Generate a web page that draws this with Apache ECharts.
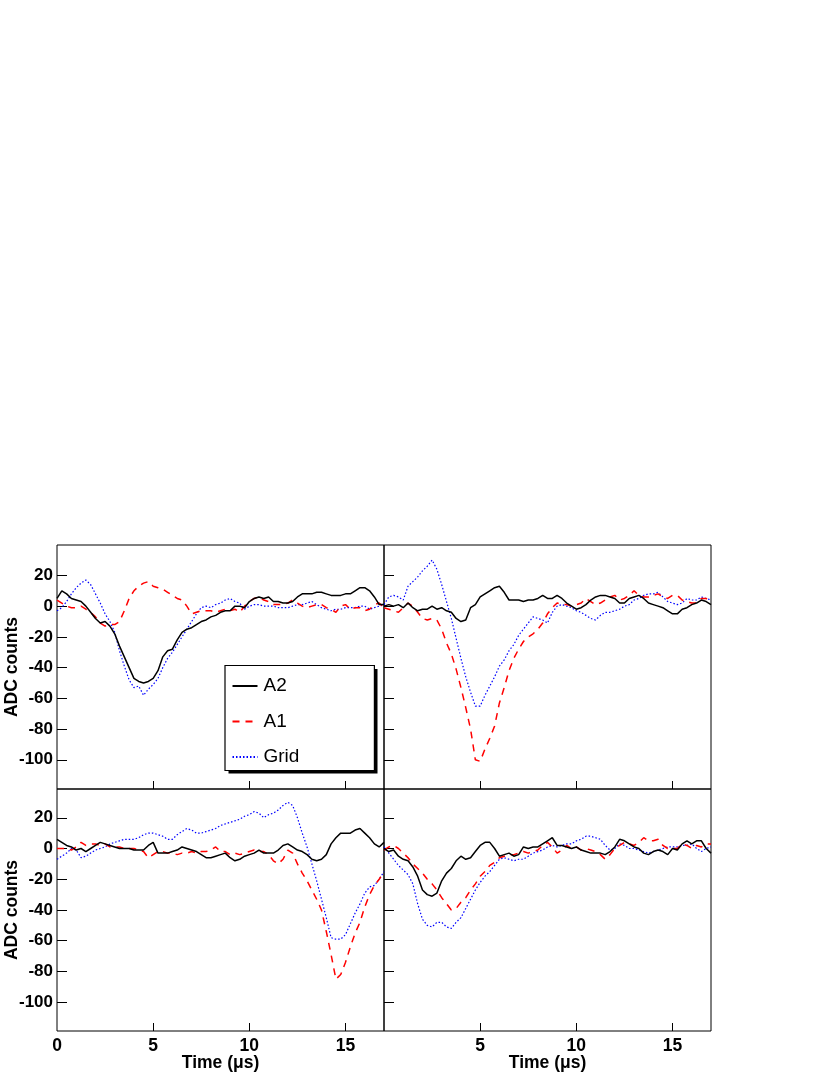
<!DOCTYPE html>
<html>
<head>
<meta charset="utf-8">
<script src="https://cdn.jsdelivr.net/npm/echarts@6/dist/echarts.min.js"></script>
<style>
html,body{margin:0;padding:0;background:#fff;}
#chart{width:830px;height:1075px;}
</style>
</head>
<body>
<div id="chart"></div>
<script>
// Sampling times (µs), 0.25 µs apart, 0..17
const times = Array.from({length: 69}, (_, i) => i * 0.25);

// Top-left panel
const tlA2 = [5,10,8,5,4,3,0,-4,-8,-11,-10,-13,-18,-26,-33,-40,-47,-49,-50,-49,-47,-42,-33,-29,-28,-22,-17,-15,-14,-12,-10,-9,-7,-6,-4,-3,-3,0,0,-1,3,5,6,5,6,3,3,2,2,3,6,8,8,8,9,9,8,7,7,7,8,8,10,12,12,10,6,1,1];
const tlA1 = [4,2,0,-1,-1,0,-2,-4,-7,-11,-13,-12,-12,-10,-3,5,10,13,15,16,13,12,11,9,7,5,4,0,-5,-4,-3,-3,-3,-4,-3,-2,-3,-2,-4,0,3,5,6,4,3,1,1,1,2,4,2,0,-1,0,1,1,-1,-2,-4,0,1,-2,-1,-1,-3,-2,1,2,-1];
const tlGrid = [-3,-1,3,8,12,15,17,14,8,2,-5,-10,-17,-29,-39,-48,-53,-52,-58,-54,-51,-47,-40,-34,-30,-25,-20,-15,-10,-5,-1,0,-1,1,2,4,5,3,2,-2,0,1,1,0,0,0,-1,-1,-1,0,1,1,2,3,1,-1,-2,-3,-2,-2,-1,-1,-1,0,0,-2,-1,0,1];

// Top-right panel
const trA2 = [0,1,0,1,-1,2,-1,-3,-2,-2,0,-2,-1,-3,-4,-8,-10,-9,-1,1,6,8,10,12,13,9,4,4,4,3,4,4,5,7,5,5,7,5,2,0,-2,-1,1,4,6,7,7,6,5,2,2,5,6,7,5,2,1,0,-1,-3,-5,-5,-2,-1,1,2,4,3,1];
const trA1 = [-1,-2,-3,-4,-1,2,0,-4,-8,-9,-8,-9,-15,-24,-31,-41,-53,-66,-80,-100,-101,-93,-86,-78,-63,-53,-42,-34,-28,-23,-20,-18,-15,-11,-5,-1,2,1,1,0,1,2,5,3,1,2,4,6,7,4,5,7,10,7,6,6,7,8,6,5,7,7,4,3,2,2,5,5,3];
const trGrid = [1,6,7,6,4,13,16,19,23,26,30,24,14,3,-8,-21,-34,-46,-56,-65,-65,-58,-52,-46,-39,-35,-29,-25,-19,-15,-11,-7,-8,-9,-11,-4,0,1,0,-1,-3,-4,-6,-8,-9,-6,-4,-4,-3,-2,0,1,4,5,7,8,8,9,6,3,2,1,2,5,4,4,6,5,4];

// Bottom-left panel
const blA2 = [6,4,2,1,-1,0,-2,0,2,4,3,2,1,0,0,0,-1,-1,-1,2,4,-3,-3,-3,-2,-1,1,0,-1,-2,-4,-6,-6,-5,-4,-3,-6,-8,-7,-5,-4,-3,-1,-3,-3,-3,-1,2,3,1,-1,-2,-4,-7,-8,-7,-4,3,7,10,10,10,12,13,10,7,3,1,4];
const blA1 = [0,0,0,-1,1,4,2,3,3,2,3,1,1,1,0,0,0,-1,-2,-6,-4,-2,-2,-3,-3,-4,-3,-3,-2,-3,-2,-2,-1,1,-2,-2,-4,-3,-4,-3,-2,-1,-2,-2,-4,-8,-10,-7,-1,-3,-10,-16,-21,-27,-33,-40,-54,-69,-85,-82,-74,-64,-55,-48,-38,-30,-24,-20,-15];
const blGrid = [-7,-5,-3,0,-1,-6,-5,-3,-1,0,1,3,4,5,6,6,6,7,9,10,10,9,8,6,6,9,11,13,12,10,10,11,12,13,15,16,17,18,19,21,22,24,23,20,22,23,25,28,30,28,20,10,1,-10,-21,-33,-45,-58,-59,-59,-56,-49,-42,-36,-29,-25,-24,-20,-15];

// Bottom-right panel
const brA2 = [0,-2,-1,-5,-7,-8,-12,-18,-27,-30,-31,-29,-21,-16,-13,-8,-5,-7,-6,-2,2,4,4,0,-5,-4,-3,-5,-4,1,0,1,1,3,5,7,2,2,1,0,1,-1,-2,-3,-3,-3,-4,-2,1,6,5,3,1,0,-3,-4,-2,-1,-2,-4,0,-1,3,5,3,5,5,0,-3];
const brA1 = [-1,1,2,0,-3,-6,-10,-13,-16,-20,-23,-27,-32,-36,-40,-39,-35,-32,-27,-23,-18,-15,-11,-9,-6,-5,-4,-4,-3,-2,-3,-2,-1,2,4,1,-3,-1,2,0,1,-1,0,-1,-2,-4,-7,-4,0,2,4,3,2,4,7,5,5,6,2,0,0,0,3,2,0,2,1,3,3];
const brGrid = [1,-3,-7,-11,-14,-17,-23,-36,-46,-50,-51,-48,-48,-51,-52,-48,-45,-39,-33,-27,-22,-18,-15,-11,-7,-6,-7,-8,-7,-7,-5,-3,-2,-1,1,2,1,2,3,3,5,6,8,8,7,6,2,-1,0,3,2,0,0,-1,-2,-3,-2,-1,0,1,1,1,2,2,3,0,-2,0,1];

const yTickValues = [-100, -80, -60, -40, -20, 0, 20];
const xTickValues = [5, 10, 15];
const xLabelsLeft = [0, 5, 10, 15];
const xLabelsRight = [5, 10, 15];
const seriesNames = ['A2', 'A1', 'Grid'];

const FONT = '"Liberation Sans", Arial, Helvetica, sans-serif';

const panels = [
  {a2: tlA2, a1: tlA1, g: tlGrid, left: 57, top: 545, width: 327, height: 244, ymin: -119, ymax: 39.8, row: 0, col: 0},
  {a2: trA2, a1: trA1, g: trGrid, left: 384, top: 545, width: 327, height: 244, ymin: -119, ymax: 39.8, row: 0, col: 1},
  {a2: blA2, a1: blA1, g: blGrid, left: 57, top: 789, width: 327, height: 242, ymin: -118.7, ymax: 38.7, row: 1, col: 0},
  {a2: brA2, a1: brA1, g: brGrid, left: 384, top: 789, width: 327, height: 242, ymin: -118.7, ymax: 38.7, row: 1, col: 1}
];

const pair = arr => times.map((t, i) => [t, arr[i]]);

const grids = [], xAxes = [], yAxes = [], series = [];
panels.forEach((p, k) => {
  grids.push({left: p.left, top: p.top, width: p.width, height: p.height,
    show: true, borderColor: '#000', borderWidth: 1, backgroundColor: 'transparent',
    containLabel: false, outerBoundsMode: 'none'});
  const bottom = p.row === 1;
  xAxes.push({
    gridIndex: k, type: 'value', min: 0, max: 17, position: 'bottom',
    axisLine: {show: false, onZero: false}, splitLine: {show: false},
    axisTick: {show: true, inside: true, length: 8, customValues: xTickValues, lineStyle: {color: '#000', width: 1}},
    axisLabel: {show: bottom, customValues: p.col === 0 ? xLabelsLeft : xLabelsRight, margin: 6,
      color: '#000', fontFamily: FONT, fontWeight: 'bold', fontSize: 17.5},
    name: bottom ? 'Time (\u03bcs)' : '', nameLocation: 'middle', nameGap: 23, nameMoveOverlap: false,
    nameTextStyle: {color: '#000', fontFamily: FONT, fontWeight: 'bold', fontSize: 17.5}
  });
  yAxes.push({
    gridIndex: k, type: 'value', min: p.ymin, max: p.ymax, position: 'left',
    axisLine: {show: false, onZero: false}, splitLine: {show: false},
    axisTick: {show: true, inside: true, length: 10, customValues: yTickValues, lineStyle: {color: '#000', width: 1}},
    axisLabel: {show: p.col === 0, customValues: yTickValues, margin: 4,
      color: '#000', fontFamily: FONT, fontWeight: 'bold', fontSize: 17},
    name: p.col === 0 ? 'ADC counts' : '', nameLocation: 'middle', nameGap: 36, nameMoveOverlap: false,
    nameTextStyle: {color: '#000', fontFamily: FONT, fontWeight: 'bold', fontSize: 17.5}
  });
  series.push({name: 'A2', type: 'line', xAxisIndex: k, yAxisIndex: k, data: pair(p.a2),
    symbol: 'none', animation: false, z: 3, lineStyle: {color: '#000000', width: 1.5, type: 'solid'}, itemStyle: {color: '#000000'}});
  series.push({name: 'A1', type: 'line', xAxisIndex: k, yAxisIndex: k, data: pair(p.a1),
    symbol: 'none', animation: false, z: 2, lineStyle: {color: '#ff0000', width: 1.5, type: [7, 6]}, itemStyle: {color: '#ff0000'}});
  series.push({name: 'Grid', type: 'line', xAxisIndex: k, yAxisIndex: k, data: pair(p.g),
    symbol: 'none', animation: false, z: 1, lineStyle: {color: '#0000ff', width: 1.2, type: [1.5, 2]}, itemStyle: {color: '#0000ff'}});
});

const chart = echarts.init(document.getElementById('chart'), null, {renderer: 'canvas'});
chart.setOption({
  backgroundColor: '#ffffff',
  animation: false,
  grid: grids,
  xAxis: xAxes,
  yAxis: yAxes,
  legend: {
    data: seriesNames, orient: 'vertical', left: 225, top: 665.5, z: 20,
    padding: [11, 75, 4, 6.5], itemWidth: 25, itemHeight: 14, itemGap: 16.5,
    backgroundColor: '#ffffff', borderColor: '#000', borderWidth: 1.2,
    selectedMode: false,
    itemStyle: {opacity: 0},
    textStyle: {color: '#000', fontFamily: FONT, fontSize: 19, padding: [0, 0, 0, 1]}
  },
  graphic: [{
    type: 'rect', z: 15, silent: true,
    shape: {x: 228.5, y: 669, width: 149, height: 104.5},
    style: {fill: '#000'}
  }],
  series: series
});
</script>
</body>
</html>
